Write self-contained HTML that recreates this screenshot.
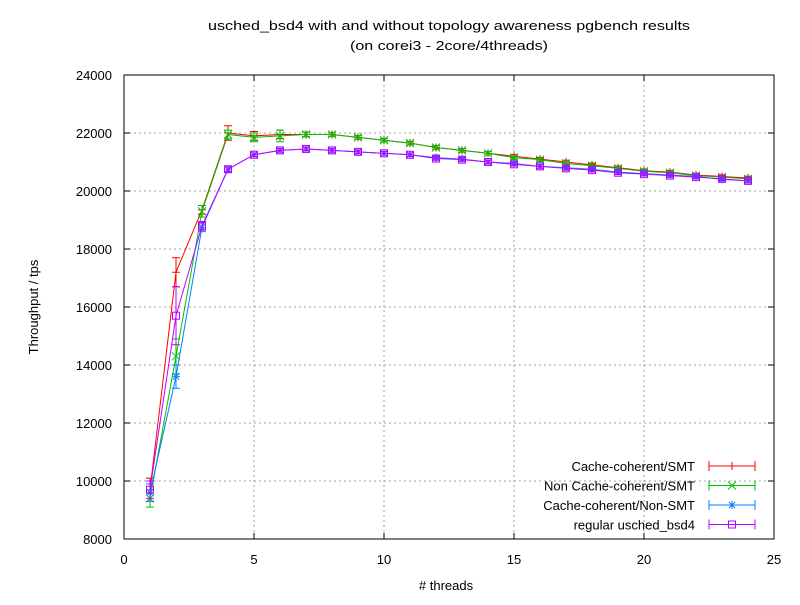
<!DOCTYPE html>
<html><head><meta charset="utf-8"><style>
body{margin:0;background:#fff}
svg text{font-family:"Liberation Sans",sans-serif;font-size:13px;fill:#000}
</style></head><body>
<svg id="s" width="800" height="600" xmlns="http://www.w3.org/2000/svg">
<rect width="800" height="600" fill="#fff"/>
<text x="449" y="30" text-anchor="middle" textLength="482" lengthAdjust="spacingAndGlyphs">usched_bsd4 with and without topology awareness pgbench results</text>
<text x="449" y="50" text-anchor="middle" textLength="198" lengthAdjust="spacingAndGlyphs">(on corei3 - 2core/4threads)</text>
<g id="g"></g>
</svg>
<script>
var g=document.getElementById('g'),h='';
var L=124,R=774,T=75,B=539;
function X(v){return L+v*(R-L)/25}
function Y(v){return B-(v-8000)*(B-T)/16000}
// grid
for(var v=10000;v<24000;v+=2000){h+='<line x1="'+L+'" x2="'+R+'" y1="'+Y(v)+'" y2="'+Y(v)+'" stroke="#a0a0a0" stroke-dasharray="2,3"/>';}
for(var x=5;x<25;x+=5){h+='<line x1="'+X(x)+'" x2="'+X(x)+'" y1="'+T+'" y2="'+B+'" stroke="#a0a0a0" stroke-dasharray="2,3"/>';}
for(var v=8000;v<=24000;v+=2000){var y=Y(v);h+='<line x1="'+L+'" x2="'+(L+6)+'" y1="'+y+'" y2="'+y+'" stroke="#000"/><line x1="'+R+'" x2="'+(R-6)+'" y1="'+y+'" y2="'+y+'" stroke="#000"/><text x="'+(L-12)+'" y="'+(y+5)+'" text-anchor="end">'+v+'</text>';}
for(var x=0;x<=25;x+=5){var xx=X(x);h+='<line x1="'+xx+'" x2="'+xx+'" y1="'+B+'" y2="'+(B-6)+'" stroke="#000"/><line x1="'+xx+'" x2="'+xx+'" y1="'+T+'" y2="'+(T+6)+'" stroke="#000"/><text x="'+xx+'" y="'+(B+25)+'" text-anchor="middle">'+x+'</text>';}
var red=[9700,17200,19350,22000,21900,21950,21950,21950,21850,21750,21650,21500,21400,21300,21200,21100,21000,20900,20800,20700,20650,20550,20500,20450];
var grn=[9400,14300,19300,21950,21850,21900,21950,21950,21850,21750,21650,21500,21400,21300,21150,21080,20950,20870,20780,20680,20630,20530,20480,20420];
var blu=[9600,13600,18750,20750,21250,21400,21450,21400,21350,21300,21250,21150,21100,21000,20950,20850,20800,20750,20650,20600,20550,20500,20400,20350];
var pur=[9700,15700,18800,20750,21250,21400,21450,21400,21350,21300,21250,21120,21080,21000,20920,20850,20780,20720,20630,20580,20530,20480,20420,20350];
var err=[[400,500,150,250,150,150,80,60,60,60,60,60,60,60,60,60,60,60,60,60,60,60,60,60],[300,600,200,150,150,200,80,60,60,60,60,60,60,60,60,60,60,60,60,60,60,60,60,60],[300,400,150,80,60,60,60,60,60,60,60,60,60,60,60,60,60,60,60,60,60,60,60,60],[300,1000,150,80,60,60,60,60,60,60,60,60,60,60,60,60,60,60,60,60,60,60,60,60]];
var S=[[red,'#ff0000','+'],[grn,'#00c000','x'],[blu,'#0080ff','*'],[pur,'#c000ff','s']];
function mark(t,x,y,c){var s='stroke="'+c+'" fill="none"';
 if(t=='+')return '<path d="M'+(x-4)+' '+y+'h8M'+x+' '+(y-4)+'v8" '+s+'/>';
 if(t=='x')return '<path d="M'+(x-4)+' '+(y-4)+'l8 8M'+(x-4)+' '+(y+4)+'l8 -8" '+s+'/>';
 if(t=='*')return '<path d="M'+(x-4)+' '+y+'h8M'+x+' '+(y-4)+'v8M'+(x-3)+' '+(y-3)+'l6 6M'+(x-3)+' '+(y+3)+'l6 -6" '+s+'/>';
 return '<rect x="'+(x-3.5)+'" y="'+(y-3.5)+'" width="7" height="7" '+s+'/>';}
S.forEach(function(s,k){var d=s[0],c=s[1],p='';
 d.forEach(function(v,i){var x=X(i+1),y=Y(v),e=err[k][i]*(B-T)/16000;p+=(i?'L':'M')+x+' '+y;
  h+='<path d="M'+x+' '+(y-e)+'V'+(y+e)+'M'+(x-4)+' '+(y-e)+'h8M'+(x-4)+' '+(y+e)+'h8" stroke="'+c+'" fill="none"/>';
  h+=mark(s[2],x,y,c);});
 h+='<path d="'+p+'" stroke="'+c+'" fill="none"/>';
 var ly=466+k*19.5;
 h+='<path d="M709 '+(ly-5)+'v10M755 '+(ly-5)+'v10M709 '+ly+'H755" stroke="'+c+'" fill="none"/>'+mark(s[2],732,ly,c);
});
var names=['Cache-coherent/SMT','Non Cache-coherent/SMT','Cache-coherent/Non-SMT','regular usched_bsd4'];
names.forEach(function(n,k){h+='<text x="695" y="'+(471+k*19.5)+'" text-anchor="end">'+n+'</text>';});
h+='<rect x="'+L+'" y="'+T+'" width="'+(R-L)+'" height="'+(B-T)+'" fill="none" stroke="#000"/>';
h+='<text x="446" y="590" text-anchor="middle"># threads</text>';
h+='<text transform="translate(38,307) rotate(-90)" text-anchor="middle">Throughput / tps</text>';
g.innerHTML=h;
</script>
</body></html>
